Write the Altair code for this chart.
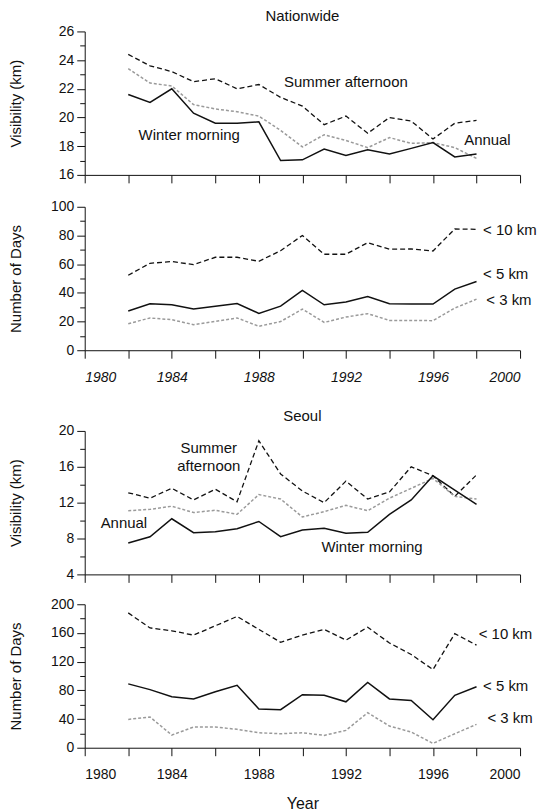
import altair as alt
import pandas as pd

years = list(range(1982, 1999))

# Nationwide visibility (km)
nat_summer = [24.4, 23.6, 23.2, 22.5, 22.7, 22.0, 22.3, 21.4, 20.8, 19.5, 20.1, 18.9, 20.0, 19.75, 18.5, 19.6, 19.8]
nat_annual = [23.4, 22.4, 22.2, 20.9, 20.6, 20.4, 20.1, 19.1, 17.95, 18.8, 18.4, 17.9, 18.6, 18.2, 18.25, 17.9, 17.15]
nat_winter = [21.6, 21.05, 22.0, 20.3, 19.6, 19.6, 19.7, 17.0, 17.05, 17.8, 17.35, 17.75, 17.45, 17.85, 18.25, 17.25, 17.45]
# Nationwide number of days
nat_d10 = [52.3, 60.6, 61.8, 59.7, 64.8, 64.8, 62.0, 69.4, 80.0, 66.9, 66.9, 75.0, 70.4, 70.6, 69.2, 84.5, 84.3]
nat_d5 = [27.3, 32.4, 31.7, 28.7, 30.6, 32.6, 25.7, 30.7, 41.7, 31.7, 33.6, 37.5, 32.4, 32.2, 32.2, 42.6, 47.9]
nat_d3 = [18.5, 22.5, 21.3, 17.8, 20.1, 22.5, 16.7, 20.0, 28.7, 19.4, 23.1, 25.5, 20.8, 20.8, 20.6, 29.4, 35.6]
# Seoul visibility (km)
seo_summer = [13.1, 12.5, 13.6, 12.3, 13.5, 12.1, 18.9, 15.2, 13.3, 12.0, 14.4, 12.4, 13.2, 16.0, 15.0, 12.7, 15.1]
seo_annual = [11.1, 11.25, 11.6, 10.9, 11.15, 10.7, 12.9, 12.4, 10.4, 11.0, 11.7, 11.1, 12.5, 13.6, 14.7, 12.7, 12.4]
seo_winter = [7.5, 8.2, 10.2, 8.65, 8.75, 9.1, 9.9, 8.2, 8.95, 9.15, 8.6, 8.7, 10.7, 12.3, 15.0, 13.4, 11.8]
# Seoul number of days
seo_d10 = [188, 167, 163, 157, 170, 183, 165, 147, 157, 165, 150, 168, 146, 130, 109, 159, 143]
seo_d5 = [89, 81, 71, 68, 78, 87, 54, 53, 74, 73, 64, 91, 68, 66, 39, 73, 85]
seo_d3 = [39.5, 42.8, 17.7, 28.8, 28.8, 25.6, 20.9, 19.5, 20.9, 17.2, 24.2, 48.8, 30.2, 21.9, 6.0, 19.5, 32.6]

# Annotations: (text, year, value, align)
nat_vis_notes = [("Summer afternoon", 1992.0, 22.5, "center"),
                 ("Winter morning", 1984.8, 18.75, "center"),
                 ("Annual", 1998.5, 18.4, "center")]
nat_day_notes = [("< 10 km", 1998.3, 83.7, "left"),
                 ("< 5 km", 1998.3, 52.9, "left"),
                 ("< 3 km", 1998.45, 35.0, "left")]
seo_vis_notes = [("Summer", 1985.7, 18.05, "center"),
                 ("afternoon", 1985.7, 16.1, "center"),
                 ("Annual", 1981.8, 9.7, "center"),
                 ("Winter morning", 1993.2, 7.0, "center")]
seo_day_notes = [("< 10 km", 1998.1, 158, "left"),
                 ("< 5 km", 1998.3, 86, "left"),
                 ("< 3 km", 1998.5, 41, "left")]

x_ticks = list(range(1980, 2001, 2))
FONT = "Liberation Sans"
BLACK = "#111111"
GREY = "#9a9a9a"

def panel(series, ydom, step, major, ytitle, notes, xlabels, italic=False, xtitle=None,
          title=None, title_offset=0):
    yvals = list(range(ydom[0], ydom[1] + 1, step))
    xaxis = alt.Axis(values=x_ticks, labels=xlabels, labelOverlap=False,
                     labelExpr="datum.value % 4 === 0 ? datum.label : ''",
                     format="d", tickSize=8, labelPadding=12,
                     labelFontSize=14, labelFontStyle="italic" if italic else "normal",
                     titleFontSize=16, titleFontWeight="normal", titlePadding=14)
    yaxis = alt.Axis(values=yvals, labelOverlap=False,
                     labelExpr=f"datum.value % {major} === 0 ? datum.label : ''",
                     tickSize={"condition": {"test": f"datum.value % {major} === 0", "value": 8}, "value": 5},
                     labelPadding=3, labelFontSize=14,
                     title=ytitle, titleFontSize=15, titleFontWeight="normal",
                     titleX=-76, titleBaseline="top")
    xenc = alt.X("year:Q", scale=alt.Scale(domain=[1980, 2000], nice=False),
                 axis=xaxis, title=xtitle)
    yenc = alt.Y("value:Q", scale=alt.Scale(domain=list(ydom), nice=False), axis=yaxis)
    layers = []
    for vals, color, dash, width in series:
        df = pd.DataFrame({"year": years, "value": vals})
        kw = dict(color=color, strokeWidth=width)
        if dash:
            kw["strokeDash"] = dash
        layers.append(alt.Chart(df).mark_line(**kw).encode(x=xenc, y=yenc))
    for align in ("center", "left"):
        sub = [n for n in notes if n[3] == align]
        if not sub:
            continue
        ndf = pd.DataFrame({"label": [n[0] for n in sub], "year": [n[1] for n in sub],
                            "value": [n[2] for n in sub]})
        layers.append(
            alt.Chart(ndf).mark_text(align=align, baseline="middle", fontSize=15,
                                     font=FONT, color=BLACK).encode(
                x=xenc, y=yenc, text="label:N")
        )
    props = dict(width=437, height=144)
    if title:
        props["title"] = alt.TitleParams(title, fontSize=15, fontWeight="normal",
                                         font=FONT, offset=title_offset, color=BLACK)
    return alt.layer(*layers).properties(**props)

p1 = panel([(nat_summer, BLACK, [5, 3], 1.3), (nat_annual, GREY, [3, 2], 1.5),
            (nat_winter, BLACK, None, 1.5)],
           (16, 26), 1, 2, "Visibility (km)", nat_vis_notes, False,
           title="Nationwide", title_offset=0)
p2 = panel([(nat_d10, BLACK, [5, 3], 1.3), (nat_d3, GREY, [3, 2], 1.5),
            (nat_d5, BLACK, None, 1.5)],
           (0, 100), 10, 20, "Number of Days", nat_day_notes, True, italic=True)
p3 = panel([(seo_summer, BLACK, [5, 3], 1.3), (seo_annual, GREY, [3, 2], 1.5),
            (seo_winter, BLACK, None, 1.5)],
           (4, 20), 2, 4, "Visibility (km)", seo_vis_notes, False,
           title="Seoul", title_offset=0)
p4 = panel([(seo_d10, BLACK, [5, 3], 1.3), (seo_d3, GREY, [3, 2], 1.5),
            (seo_d5, BLACK, None, 1.5)],
           (0, 200), 20, 40, "Number of Days", seo_day_notes, True, xtitle="Year")

top = alt.vconcat(p1, p2, spacing=16)
bottom = alt.vconcat(p3, p4, spacing=14)
chart = alt.vconcat(top, bottom, spacing=25).properties(
    padding=0, background="white"
).configure_view(stroke=None).configure_axis(
    grid=False, domainColor=BLACK, tickColor=BLACK, labelColor=BLACK,
    titleColor=BLACK, labelFont=FONT, titleFont=FONT, domainWidth=1, tickWidth=1,
    labelOverlap=False
)

chart.save("out.html", embed_options={"renderer": "svg", "actions": False})
